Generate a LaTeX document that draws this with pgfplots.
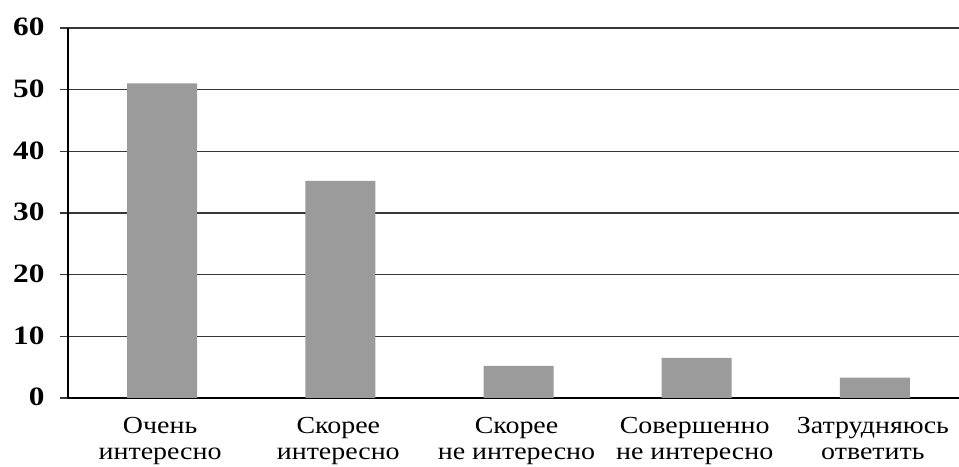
\documentclass[border=0pt]{standalone}
\usepackage{fontspec}
\setmainfont{Liberation Serif}
\newfontfamily\labfont[FakeStretch=1.14]{Liberation Serif}
\newfontfamily\numfont[FakeStretch=1.18]{Liberation Serif}
\usepackage{pgfplots}
\pgfplotsset{compat=1.18}
\definecolor{barc}{RGB}{155,155,155}
\definecolor{gridc}{RGB}{55,55,55}
\begin{document}
\begin{tikzpicture}
\begin{axis}[
  name=ax,
  scale only axis, width=891pt, height=370pt,
  xmin=-0.5, xmax=4.5, ymin=0, ymax=60,
  axis x line*=bottom, axis y line*=left,
  axis line style={black, line width=1.5pt},
  ytick={0,10,...,60},
  ymajorgrids, grid style={gridc, line width=1.1pt},
  tick align=outside, major tick length=8pt,
  ytick style={gridc, line width=1.1pt},
  xtick={0,1,2,3,4},
  xticklabels={{Очень\\интересно},{Скорее\\интересно},{Скорее\\не интересно},{Совершенно\\не интересно},{Затрудняюсь\\ответить}},
  xtick style={draw=none},
  extra x ticks={0.5,1.5,2.5,3.5},
  extra x tick labels={},
  extra x tick style={major tick length=8pt, tick style={black, line width=1.2pt, draw=black}},
  xticklabel style={align=center, font=\labfont\fontsize{24.5}{26}\selectfont, yshift=-9pt, xshift=3pt, inner sep=2pt},
  yticklabel style={font=\numfont\fontsize{26.5}{27}\selectfont\bfseries, xshift=-12pt, yshift=1pt},
  /pgf/number format/assume math mode=true,
  clip=false,
]
\addplot[ybar, bar width=70pt, bar shift=5pt, fill=barc, draw=none] coordinates {(0,51) (1,35.2) (2,5.2) (3,6.5) (4,3.3)};
\end{axis}
\pgfresetboundingbox
\path ([shift={(-68pt,-69pt)}]ax.south west) rectangle ([shift={(0pt,28pt)}]ax.north east);
\end{tikzpicture}
\end{document}
